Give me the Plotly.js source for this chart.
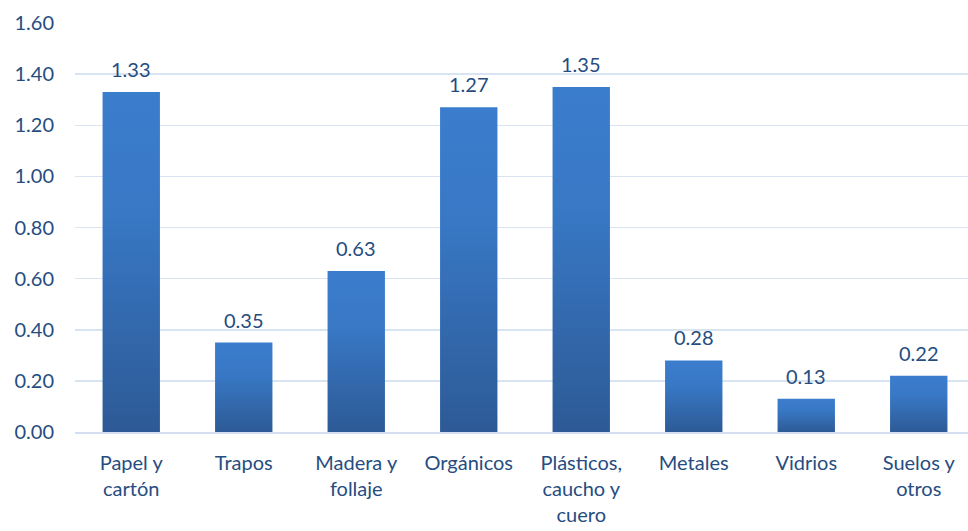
<!DOCTYPE html>
<html>
<head>
<meta charset="utf-8">
<script src="https://cdn.plot.ly/plotly-3.0.1.min.js"></script>
<style>html,body{margin:0;padding:0;overflow:hidden;background:#fff;}</style>
</head>
<body>
<div id="chart"></div>
<script>
const categories = ["Papel y<br>cartón", "Trapos", "Madera y<br>follaje", "Orgánicos", "Plásticos,<br>caucho y<br>cuero", "Metales", "Vidrios", "Suelos y<br>otros"];
const values = [1.33, 0.35, 0.63, 1.27, 1.35, 0.28, 0.13, 0.22];
const yTicks = [0, 0.2, 0.4, 0.6, 0.8, 1.0, 1.2, 1.4, 1.6];

const textColor = "#264d80";
const fontFam = "Lato, 'Open Sans', sans-serif";
const fs = 20;

const trace = {
  type: "bar",
  x: categories,
  y: values,
  cliponaxis: false,
  marker: {color: "#3468ad", line: {width: 0}},
  hoverinfo: "skip"
};

const annotations = values.map((v, i) => ({
  x: categories[i],
  y: v,
  xref: "x",
  yref: "y",
  text: v.toFixed(2),
  showarrow: false,
  yanchor: "bottom",
  yshift: 9,
  font: {family: fontFam, size: fs, color: textColor}
}));

const layout = {
  width: 975,
  height: 531,
  margin: {l: 75, r: 0, t: 23, b: 99},
  paper_bgcolor: "#fff",
  plot_bgcolor: "#fff",
  bargap: 0.49,
  showlegend: false,
  annotations: annotations,
  font: {family: fontFam, size: fs, color: textColor},
  xaxis: {
    type: "category",
    showgrid: false,
    showline: true,
    linecolor: "#d3dff0",
    linewidth: 1.5,
    ticks: "",
    ticklabelstandoff: 12,
    tickfont: {family: fontFam, size: fs, color: textColor}
  },
  yaxis: {
    range: [0, 1.6],
    tickvals: yTicks,
    ticktext: yTicks.map(v => v.toFixed(2)),
    showgrid: true,
    gridcolor: "#d9e4f2",
    gridwidth: 1.5,
    zeroline: false,
    showline: false,
    ticks: "",
    ticklabelstandoff: 20,
    tickfont: {family: fontFam, size: fs, color: textColor}
  }
};

Plotly.newPlot("chart", [trace], layout, {staticPlot: true, displayModeBar: false}).then(gd => {
  const svg = gd.querySelector("svg.main-svg");
  const ns = "http://www.w3.org/2000/svg";
  let defs = svg.querySelector("defs");
  if (!defs) { defs = document.createElementNS(ns, "defs"); svg.insertBefore(defs, svg.firstChild); }
  const lg = document.createElementNS(ns, "linearGradient");
  lg.setAttribute("id", "barGrad");
  lg.setAttribute("x1", "0"); lg.setAttribute("y1", "0");
  lg.setAttribute("x2", "0"); lg.setAttribute("y2", "1");
  [["0", "#3b7dcd"], ["0.35", "#3878c5"], ["1", "#2d5a96"]].forEach(([o, c]) => {
    const s = document.createElementNS(ns, "stop");
    s.setAttribute("offset", o); s.setAttribute("stop-color", c);
    lg.appendChild(s);
  });
  defs.appendChild(lg);
  gd.querySelectorAll(".barlayer .point path").forEach(p => {
    p.style.fill = "url(#barGrad)";
  });
});
</script>
</body>
</html>
